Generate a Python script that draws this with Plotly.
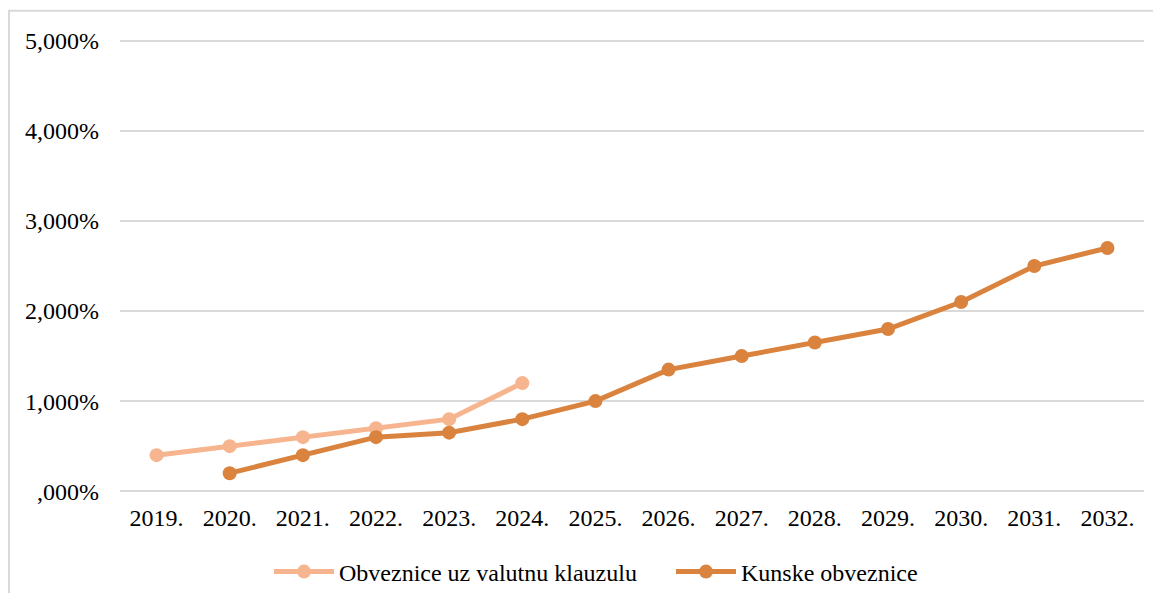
import plotly.graph_objects as go

years = ["2019.", "2020.", "2021.", "2022.", "2023.", "2024.", "2025.", "2026.",
         "2027.", "2028.", "2029.", "2030.", "2031.", "2032."]
valutna_years = ["2019.", "2020.", "2021.", "2022.", "2023.", "2024."]
valutna_values = [0.4, 0.5, 0.6, 0.7, 0.8, 1.2]
kunske_years = ["2020.", "2021.", "2022.", "2023.", "2024.", "2025.", "2026.",
                "2027.", "2028.", "2029.", "2030.", "2031.", "2032."]
kunske_values = [0.2, 0.4, 0.6, 0.65, 0.8, 1.0, 1.35, 1.5, 1.65, 1.8, 2.1, 2.5, 2.7]
y_tickvals = [0, 1, 2, 3, 4, 5]
y_ticktext = [",000%", "1,000%", "2,000%", "3,000%", "4,000%", "5,000%"]

light = "#F7B58F"
dark = "#DA833E"

fig = go.Figure()
fig.add_trace(go.Scatter(x=valutna_years, y=valutna_values, mode="lines+markers",
                         name="Obveznice uz valutnu klauzulu",
                         line=dict(color=light, width=5),
                         marker=dict(color=light, size=14)))
fig.add_trace(go.Scatter(x=kunske_years, y=kunske_values, mode="lines+markers",
                         name="Kunske obveznice",
                         line=dict(color=dark, width=5),
                         marker=dict(color=dark, size=14)))

OFF = 8  # default page body margin
W, H = 1161 - 2 * OFF, 601 - 2 * OFF   # fit page without overflow
PAD = 0.02
unit = 90.0
top_page = 41 - PAD * unit
bot_page = 491 + PAD * unit
ml, mr = 120 - OFF, W - (1144 - OFF)
mt, mb = top_page - OFF, H - (bot_page - OFF)
pw, ph = W - ml - mr, H - mt - mb

def px_x(x):
    # page pixel -> paper fraction
    return (x - OFF - ml) / pw

def px_y(y):
    return (H - mb - (y - OFF)) / ph

def cont_y(y):
    # page pixel -> container fraction
    return (H - (y - OFF)) / H

FONT = "Liberation Serif"
fig.update_layout(
    width=W, height=H,
    margin=dict(l=ml, r=mr, t=mt, b=mb, pad=0),
    paper_bgcolor="white", plot_bgcolor="white",
    font=dict(family=FONT, size=24, color="black"),
    showlegend=True,
    legend=dict(orientation="h", xref="paper", x=px_x(269), xanchor="left",
                yref="container", y=cont_y(572), yanchor="middle",
                font=dict(size=24),
                itemwidth=60, entrywidth=327, entrywidthmode="pixels",
                traceorder="normal"),
    xaxis=dict(type="category", categoryorder="array", categoryarray=years,
               range=[-0.5, 13.5], showgrid=False, zeroline=False,
               showline=False, ticks="", tickfont=dict(size=24),
               ticklabelstandoff=8, automargin=False),
    yaxis=dict(range=[-PAD, 5 + PAD], tickvals=y_tickvals, ticktext=y_ticktext,
               showgrid=True, gridcolor="#D9D9D9", gridwidth=1.5,
               zeroline=False, showline=False, ticks="",
               tickfont=dict(size=24), ticklabelstandoff=20, automargin=False),
    shapes=[dict(type="rect", xref="paper", yref="paper",
                 x0=px_x(9), x1=px_x(1175), y0=px_y(11), y1=px_y(620),
                 line=dict(color="#D9D9D9", width=2), layer="below")],
)

fig.write_html("out.html")
